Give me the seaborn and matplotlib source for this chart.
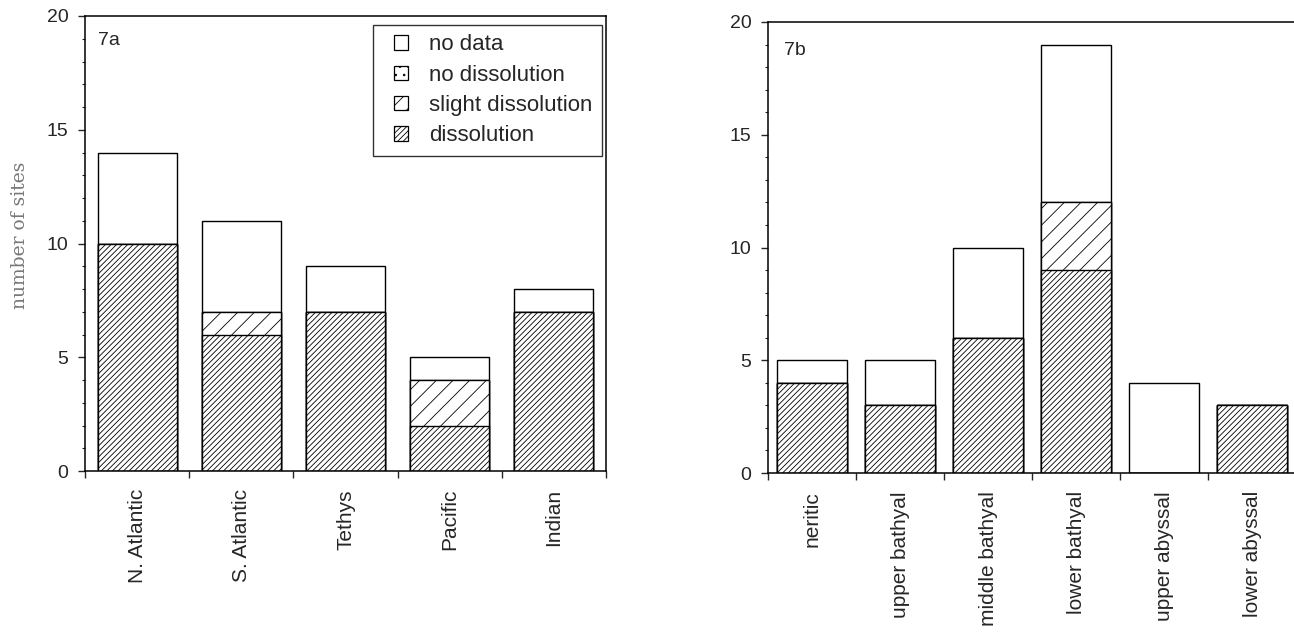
import numpy as np
import pandas as pd
import matplotlib
matplotlib.use("Agg")
import matplotlib.pyplot as plt
from matplotlib.patches import Patch, Rectangle
from matplotlib.legend_handler import HandlerPatch
import seaborn as sns

# ---- data ----
basins = ["N. Atlantic", "S. Atlantic", "Tethys", "Pacific", "Indian"]
a_dissolution = [10, 6, 7, 2, 7]
a_slight = [0, 1, 0, 2, 0]
a_nodiss = [0, 0, 0, 0, 0]
a_nodata = [4, 4, 2, 1, 1]

depths = ["neritic", "upper bathyal", "middle bathyal", "lower bathyal",
          "upper abyssal", "lower abyssal"]
b_dissolution = [4, 3, 6, 9, 0, 3]
b_slight = [0, 0, 0, 3, 0, 0]
b_nodiss = [0, 0, 0, 0, 0, 0]
b_nodata = [1, 2, 4, 7, 4, 0]

legend_labels = ["no data", "no dissolution", "slight dissolution", "dissolution"]
yticks = [0, 5, 10, 15, 20]

sns.set_style("ticks")
plt.rcParams["font.family"] = ["Liberation Sans", "DejaVu Sans"]
plt.rcParams["hatch.linewidth"] = 0.6
plt.rcParams["hatch.color"] = "black"

HATCH = {"no data": "", "no dissolution": "..", "slight dissolution": "//",
         "dissolution": "//////"}

fig = plt.figure(figsize=(12.94, 6.33), dpi=100)
ax1 = fig.add_axes([85 / 1294, 1 - 471 / 633, (606 - 85) / 1294, (471 - 16) / 633])
ax2 = fig.add_axes([768 / 1294, 1 - 473 / 633, (1296 - 768) / 1294, (473 - 22) / 633])


def stacked(ax, cats, diss, slight, nodiss, nodata, width):
    d = np.array(diss)
    s = d + np.array(slight)
    n = s + np.array(nodiss)
    t = n + np.array(nodata)
    layers = [("no data", t), ("no dissolution", n),
              ("slight dissolution", s), ("dissolution", d)]
    for name, vals in layers:
        df = pd.DataFrame({"cat": cats, "v": vals})
        sns.barplot(data=df, x="cat", y="v", ax=ax, color="white", saturation=1,
                    edgecolor="black", linewidth=1.0, hatch=HATCH[name],
                    width=width, errorbar=None, order=cats)
    ncat = len(cats)
    ax.set_xlim(-0.5, ncat - 0.5)
    ax.set_ylim(0, 20)
    ax.set_xlabel("")
    ax.set_ylabel("")
    ax.set_xticks(range(ncat))
    ax.set_xticklabels(cats, rotation=90, fontsize=15)
    ax.tick_params(axis="x", which="major", length=0, pad=13)
    ax.set_xticks(np.arange(-0.5, ncat), minor=True)
    ax.tick_params(axis="x", which="minor", length=5, width=1, direction="out")
    ax.set_yticks(yticks)
    ax.set_yticklabels([str(v) for v in yticks], fontsize=14)
    ax.set_yticks(np.arange(0, 21, 1), minor=True)
    ax.tick_params(axis="y", which="major", length=5, width=1, direction="out", pad=7)
    ax.tick_params(axis="y", which="minor", length=2.5, width=0.8, direction="out")
    for sp in ax.spines.values():
        sp.set_visible(True)
        sp.set_linewidth(1.1)
        sp.set_color("black")


stacked(ax1, basins, a_dissolution, a_slight, a_nodiss, a_nodata, 0.76)
stacked(ax2, depths, b_dissolution, b_slight, b_nodiss, b_nodata, 0.8)

ax1.text(0.025, 0.965, "7a", transform=ax1.transAxes, fontsize=14, va="top", ha="left")
ax2.text(0.03, 0.955, "7b", transform=ax2.transAxes, fontsize=14, va="top", ha="left")

fig.text(20 / 1294, 1 - 235 / 633, "number of sites", rotation=90, fontsize=13.5,
         color="#777777", family="DejaVu Serif", va="center", ha="center")


def square_patch(legend, orig_handle, xdescent, ydescent, width, height, fontsize):
    h = height
    return Rectangle((-xdescent + width - h, -ydescent), h, h)


handles = [Patch(facecolor="white", edgecolor="black", hatch=HATCH[l], linewidth=0.9)
           for l in legend_labels]
leg = ax1.legend(handles, legend_labels, loc="upper right",
                 bbox_to_anchor=(1 - 4 / 521, 1 - 9 / 455), borderaxespad=0,
                 fontsize=16, frameon=True, fancybox=False, handlelength=1.15,
                 handleheight=0.62, labelspacing=0.42, handletextpad=0.95,
                 borderpad=0.42,
                 handler_map={Patch: HandlerPatch(patch_func=square_patch)})
leg.get_frame().set_edgecolor("black")
leg.get_frame().set_linewidth(1.0)

fig.savefig("out.png", dpi=100)
